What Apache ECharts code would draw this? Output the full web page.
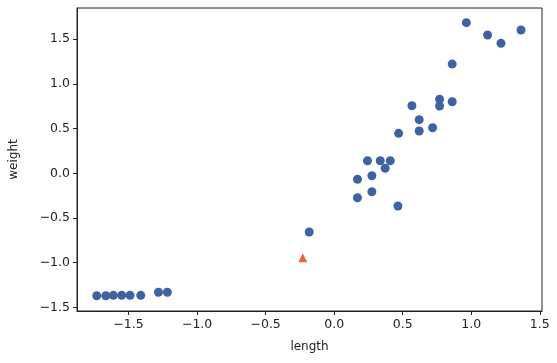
<!DOCTYPE html>
<html>
<head>
<meta charset="utf-8">
<script src="https://cdn.jsdelivr.net/npm/echarts@6/dist/echarts.min.js"></script>
<style>
  html, body { margin: 0; padding: 0; background: #fff; }
  #chart { width: 557px; height: 363px; }
</style>
</head>
<body>
<div id="chart"></div>
<script>
// standardized length / weight
var lengthVals = [0.964, 1.119, 1.217, 1.363, 0.861,
                  0.567, 0.769, 0.769, 0.861, 0.620, 0.620, 0.718, 0.470,
                  0.243, 0.336, 0.409, 0.372, 0.275, 0.170, 0.275, 0.170, 0.465,
                  -0.182,
                  -1.732, -1.666, -1.611, -1.550, -1.489, -1.411, -1.282, -1.217];
var weightVals = [1.685, 1.547, 1.454, 1.603, 1.222,
                  0.756, 0.828, 0.753, 0.801, 0.600, 0.473, 0.510, 0.447,
                  0.141, 0.141, 0.141, 0.056, -0.027, -0.067, -0.206, -0.273, -0.366,
                  -0.657,
                  -1.37, -1.37, -1.365, -1.365, -1.365, -1.365, -1.33, -1.33];
var newPoint = [-0.229, -0.944];
var xTicks = [-1.5, -1.0, -0.5, 0.0, 0.5, 1.0, 1.5];
var yTicks = [-1.5, -1.0, -0.5, 0.0, 0.5, 1.0, 1.5];

var pts = lengthVals.map(function (v, i) { return [v, weightVals[i]]; });

function fmt(v) { return v.toFixed(1).replace('-', '\u2212'); }

var chart = echarts.init(document.getElementById('chart'));
var axisCommon = {
    type: 'value',
    nameLocation: 'middle',
    nameTextStyle: { fontFamily: 'DejaVu Sans', fontSize: 12, color: '#222' },
    axisLine: { show: true, onZero: false, lineStyle: { color: '#222', width: 1 } },
    splitLine: { show: false },
    axisTick: { show: true, inside: false, length: 4, lineStyle: { color: '#222' } },
    axisLabel: { fontFamily: 'DejaVu Sans', fontSize: 12.5, color: '#222', formatter: fmt }
};

option = {
    animation: false,
    grid: {
        left: 77, right: 15, top: 8, bottom: 52,
        show: true, borderColor: '#222', borderWidth: 1
    },
    xAxis: echarts.util.merge({
        name: 'length', nameGap: 30,
        min: -1.876, max: 1.516,
        axisTick: { customValues: xTicks },
        axisLabel: { customValues: xTicks, margin: 7 }
    }, axisCommon),
    yAxis: echarts.util.merge({
        name: 'weight', nameGap: 57,
        min: -1.54, max: 1.849,
        axisTick: { customValues: yTicks },
        axisLabel: { customValues: yTicks, margin: 7 }
    }, axisCommon),
    series: [
        {
            type: 'scatter',
            data: pts,
            symbol: 'circle',
            symbolSize: 9,
            itemStyle: { color: '#4162a0', opacity: 1 }
        },
        {
            type: 'scatter',
            data: [newPoint],
            symbol: 'triangle',
            symbolSize: 9,
            itemStyle: { color: '#e8643a', opacity: 1 }
        }
    ]
};
chart.setOption(option);
</script>
</body>
</html>
